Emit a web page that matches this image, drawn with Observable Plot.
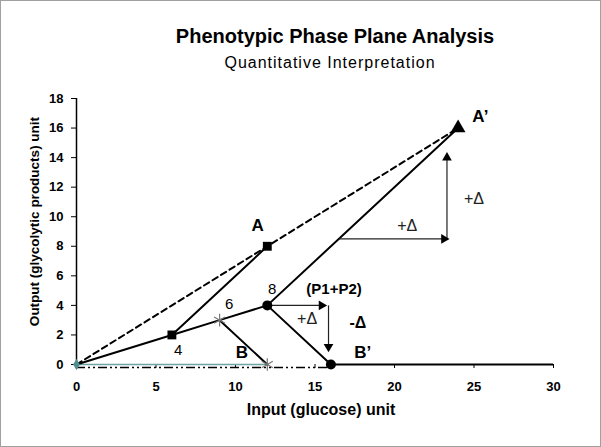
<!DOCTYPE html>
<html>
<head>
<meta charset="utf-8">
<script src="https://cdn.jsdelivr.net/npm/d3@7"></script>
<script src="https://cdn.jsdelivr.net/npm/@observablehq/plot@0.6"></script>
<style>
  body { margin: 0; background: #fff; }
  #wrap { position: relative; width: 601px; height: 447px; font-family: "Liberation Sans", Arial, sans-serif; }
  #border { position: absolute; left: 0; top: 0; width: 599px; height: 445px; border: 1px solid #a0a0a0; pointer-events: none; }
  #title { position: absolute; left: 135px; width: 400px; top: 25px; line-height: 23px; text-align: center; font-weight: bold; font-size: 20px; color: #000; white-space: nowrap; }
  #subtitle { position: absolute; left: 130px; width: 400px; top: 54px; line-height: 18px; text-align: center; font-size: 16px; letter-spacing: 1px; color: #000; white-space: nowrap; }
  #chart { position: absolute; left: 0; top: 0; }
</style>
</head>
<body>
<div id="wrap">
  <div id="chart"></div>
  <div id="title">Phenotypic Phase Plane Analysis</div>
  <div id="subtitle">Quantitative Interpretation</div>
  <div id="border"></div>
</div>
<script>
// ---- data ----
const xTicks = [0, 5, 10, 15, 20, 25, 30];
const yTicks = [0, 2, 4, 6, 8, 10, 12, 14, 16, 18];

// dashed line through A and A'
const dashedX = [0, 12, 24];
const dashedY = [0, 8, 16];
// solid segments
const baseX = [0, 6, 9, 12];          // origin -> 4 -> 6 -> 8
const baseY = [0, 2, 3, 4];
const segAX = [6, 12];                // 4 -> A
const segAY = [2, 8];
const segBX = [9, 12];                // 6 -> B
const segBY = [3, 0];
const segB2X = [12, 16];              // 8 -> B'
const segB2Y = [4, 0];
const segA2X = [12, 24];              // 8 -> A'
const segA2Y = [4, 16];

// markers
const squareX = [6, 12];
const squareY = [2, 8];
const starX = [9, 12];
const starY = [3, 0];
const circleX = [12, 16];
const circleY = [4, 0];
const triX = [24];
const triY = [16];

// arrows [x1, y1, x2, y2, direction]
const arrows = [
  [12.2, 4, 15.6, 4, "right"],
  [15.85, 4, 15.85, 1.0, "down"],
  [16.5, 8.5, 23.3, 8.5, "right"],
  [23.3, 8.5, 23.3, 14.2, "up"]
];

// labels
const pointLabels = [
  {x: 6.4, y: 0.95, t: "4"},
  {x: 9.6, y: 4.1, t: "6"},
  {x: 12.3, y: 5.1, t: "8"}
];
const letterLabels = [
  {x: 11.4, y: 9.4, t: "A"},
  {x: 25.4, y: 16.8, t: "A\u2019"},
  {x: 10.4, y: 0.8, t: "B"},
  {x: 18.0, y: 0.8, t: "B\u2019"}
];
const deltaLabels = [
  {x: 14.5, y: 3.1, t: "+\u0394"},
  {x: 20.8, y: 9.4, t: "+\u0394"},
  {x: 25.0, y: 11.2, t: "+\u0394"}
];

// ---- build ----
const pts = (xs, ys, g) => xs.map((x, i) => ({x, y: ys[i], g}));
const solid = [
  ...pts(baseX, baseY, "base"),
  ...pts(segAX, segAY, "a"),
  ...pts(segBX, segBY, "b"),
  ...pts(segB2X, segB2Y, "b2"),
  ...pts(segA2X, segA2Y, "a2")
];
const arr = arrows.map(([x1, y1, x2, y2, d]) => ({x1, y1, x2, y2, d}));

const font = "Liberation Sans, Arial, sans-serif";

const chart = Plot.plot({
  width: 601,
  height: 447,
  marginLeft: 76,
  marginRight: 48,
  marginTop: 98,
  marginBottom: 83,
  style: {fontFamily: font, background: "transparent"},
  x: {domain: [0, 30]},
  y: {domain: [0, 18]},
  marks: [
    // axes
    Plot.axisY({ticks: yTicks, tickSize: 5, tickPadding: 8, label: null, fontSize: 13, fontWeight: "bold", stroke: "#000"}),
    Plot.axisX({ticks: xTicks, tickSize: 4, tickPadding: 13, label: null, fontSize: 13, fontWeight: "bold", stroke: "#000"}),
    Plot.ruleX([0], {y1: 0, y2: 18, stroke: "#000", strokeWidth: 1.5}),
    Plot.ruleY([0], {x1: 16, x2: 30, stroke: "#000", strokeWidth: 2}),
    Plot.ruleY([0], {x1: 0, x2: 16, stroke: "#000", strokeWidth: 1.5, dy: 3, strokeDasharray: "9,3,2,3,2,3"}),
    Plot.ruleY([0], {x1: 0, x2: 12, stroke: "#6fa3a3", strokeWidth: 1.5}),
    // lines
    Plot.line(pts(dashedX, dashedY, "d"), {x: "x", y: "y", stroke: "#000", strokeWidth: 2, strokeDasharray: "6,4"}),
    Plot.line(solid, {x: "x", y: "y", z: "g", stroke: "#000", strokeWidth: 2}),
    // arrows
    Plot.link(arr, {x1: "x1", y1: "y1", x2: "x2", y2: "y2", stroke: "#222", strokeWidth: 1.2}),
    Plot.dot(arr.filter(a => a.d === "right"), {x: "x2", y: "y2", symbol: "triangle", r: 3.6, fill: "#000", stroke: "none", rotate: 90, dx: -3}),
    Plot.dot(arr.filter(a => a.d === "down"), {x: "x2", y: "y2", symbol: "triangle", r: 3.6, fill: "#000", stroke: "none", rotate: 180, dy: -3}),
    Plot.dot(arr.filter(a => a.d === "up"), {x: "x2", y: "y2", symbol: "triangle", r: 3.6, fill: "#000", stroke: "none", rotate: 0, dy: 3}),
    // markers
    Plot.dot(pts(squareX, squareY), {x: "x", y: "y", symbol: "square", r: 5, fill: "#000", stroke: "none"}),
    Plot.dot(pts(starX, starY), {x: "x", y: "y", symbol: "asterisk", r: 6, stroke: "#777", strokeWidth: 1.2}),
    Plot.dot(pts(circleX, circleY), {x: "x", y: "y", symbol: "circle", r: 5, fill: "#000", stroke: "none"}),
    Plot.dot(pts(triX, triY), {x: "x", y: "y", symbol: "triangle", r: 5.5, fill: "#000", stroke: "none"}),
    Plot.dot([{x: 0, y: 0}], {x: "x", y: "y", symbol: "diamond", r: 3.5, fill: "#4f8f8f", stroke: "none"}),
    // labels
    Plot.text(pointLabels, {x: "x", y: "y", text: "t", fontSize: 15, fill: "#000"}),
    Plot.text(letterLabels, {x: "x", y: "y", text: "t", fontSize: 17, fontWeight: "bold", fill: "#000"}),
    Plot.text(deltaLabels, {x: "x", y: "y", text: "t", fontSize: 16, fill: "#222"}),
    Plot.text([{x: 17.7, y: 2.8, t: "-\u0394"}], {x: "x", y: "y", text: "t", fontSize: 16, fontWeight: "bold", fill: "#000"}),
    Plot.text([{x: 16.2, y: 5.1, t: "(P1+P2)"}], {x: "x", y: "y", text: "t", fontSize: 15, fontWeight: "bold", fill: "#000"}),
    // axis titles
    Plot.text(["Input (glucose) unit"], {frameAnchor: "bottom", dx: 6, dy: 50, text: d => d, fontSize: 16, fontWeight: "bold", fill: "#000"}),
    Plot.text(["Output (glycolytic products) unit"], {frameAnchor: "left", dx: -42, dy: -10, rotate: -90, textAnchor: "middle", text: d => d, fontSize: 13.5, fontWeight: "bold", fill: "#000"})
  ]
});
document.getElementById("chart").appendChild(chart);
</script>
</body>
</html>
